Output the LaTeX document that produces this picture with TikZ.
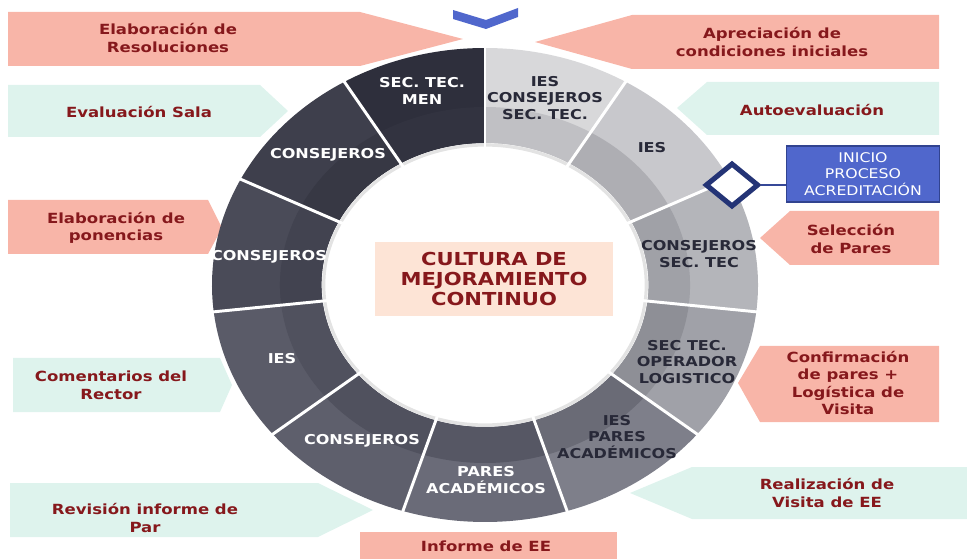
\documentclass[tikz,border=0pt]{standalone}
\usepackage{fontspec}
\newfontfamily\lblfont{DejaVu Sans}[FakeStretch=1.18]
\usetikzlibrary{positioning,shapes.geometric}
\definecolor{tagred}{RGB}{248,181,168}
\definecolor{tagmint}{RGB}{222,243,237}
\definecolor{txtred}{RGB}{134,24,28}
\definecolor{peach}{RGB}{253,228,214}
\definecolor{navy}{RGB}{36,52,118}
\definecolor{inicioblue}{RGB}{80,103,204}
\definecolor{ringink}{RGB}{40,41,56}
% ring segments: outer part / inner band
\definecolor{sA}{RGB}{46,47,60}   \definecolor{sAi}{RGB}{50,51,64}
\definecolor{sB}{RGB}{62,63,76}   \definecolor{sBi}{RGB}{55,56,68}
\definecolor{sC}{RGB}{74,75,88}   \definecolor{sCi}{RGB}{66,67,80}
\definecolor{sD}{RGB}{90,91,104}  \definecolor{sDi}{RGB}{80,81,94}
\definecolor{sE}{RGB}{94,95,108}  \definecolor{sEi}{RGB}{80,81,94}
\definecolor{sF}{RGB}{106,107,120}\definecolor{sFi}{RGB}{86,87,100}
\definecolor{sG}{RGB}{126,127,138}\definecolor{sGi}{RGB}{106,107,118}
\definecolor{sH}{RGB}{160,161,168}\definecolor{sHi}{RGB}{142,143,150}
\definecolor{sI}{RGB}{180,181,186}\definecolor{sIi}{RGB}{160,161,167}
\definecolor{sJ}{RGB}{200,200,204}\definecolor{sJi}{RGB}{174,174,179}
\definecolor{sK}{RGB}{216,216,218}\definecolor{sKi}{RGB}{192,192,196}
\tikzset{
    tagsalmon/.style={fill=tagred},
    tagmintbox/.style={fill=tagmint},
    tagtext/.style={font=\lblfont\bfseries\fontsize{10.5}{13.2}\selectfont, text=txtred, align=center, inner sep=0pt},
    ringtext/.style={font=\lblfont\bfseries\fontsize{10.2}{12.4}\selectfont, text=white, align=center, inner sep=0pt},
    ringdark/.style={ringtext, text=ringink},
    segline/.style={draw=white, line width=2.2pt},
    centerbox/.style={fill=peach, align=center, minimum width=178pt, minimum height=55pt, text=txtred,
        font=\lblfont\bfseries\fontsize{13.4}{15}\selectfont},
    startmark/.style={draw=navy, line width=3.8pt, fill=white, diamond, inner sep=0pt, minimum width=40pt, minimum height=33pt},
    inicioblock/.style={fill=inicioblue, draw=navy!70!inicioblue, line width=0.8pt, align=center, text=white,
        minimum width=115pt, minimum height=42pt, inner sep=1pt, font=\lblfont\fontsize{10}{12.4}\selectfont},
    linkline/.style={draw=navy!60!inicioblue, line width=1.6pt}
}

\begin{document}
\begin{tikzpicture}[x=0.75pt, y=-0.75pt]
    \useasboundingbox (0,0) rectangle (967,559);

    % left tags
    \fill[tagsalmon] (8,12) -- (360,12) -- (463,39) -- (360,66) -- (8,66) -- cycle;
    \node[tagtext] (resol) at (168,38) {Elaboración de\\Resoluciones};
    \fill[tagmintbox] (8,85) -- (260,85) -- (288,111) -- (260,137) -- (8,137) -- cycle;
    \node[tagtext] (evsala) at (139,112) {Evaluación Sala};
    \fill[tagsalmon] (8,200) -- (208,200) -- (222,228) -- (208,254) -- (8,254) -- cycle;
    \node[tagtext] (ponenc) at (116,228) {Elaboración de\\ponencias};
    \fill[tagmintbox] (13,358) -- (220,358) -- (232,385) -- (220,412) -- (13,412) -- cycle;
    \node[tagtext] (rector) at (111,385) {Comentarios del\\Rector};
    \fill[tagmintbox] (10,483) -- (318,483) -- (373,510) -- (318,537) -- (10,537) -- cycle;
    \node[tagtext] (revpar) at (145,518) {Revisión informe de\\Par};
    \fill[tagsalmon] (360,532) rectangle (617,559);
    \node[tagtext] (informe) at (486,546) {Informe de EE};

    % right tags
    \fill[tagsalmon] (939,15) -- (632,15) -- (535,42) -- (632,69) -- (939,69) -- cycle;
    \node[tagtext] (aprec) at (772,42) {Apreciación de\\condiciones iniciales};
    \fill[tagmintbox] (939,82) -- (707,82) -- (677,108) -- (707,135) -- (939,135) -- cycle;
    \node[tagtext] (autoev) at (812,110) {Autoevaluación};
    \fill[tagsalmon] (939,211) -- (790,211) -- (760,238) -- (790,265) -- (939,265) -- cycle;
    \node[tagtext] (selec) at (851,239) {Selección\\de Pares};
    \fill[tagsalmon] (939,346) -- (760,346) -- (738,383) -- (760,422) -- (939,422) -- cycle;
    \node[tagtext] (confirm) at (848,383) {Confirmación\\de pares +\\Logística de\\Visita};
    \fill[tagmintbox] (967,467) -- (692,467) -- (630,493) -- (692,519) -- (967,519) -- cycle;
    \node[tagtext] (realiz) at (827,493) {Realización de\\Visita de EE};

    % top chevron
    \fill[inicioblue] (453,10) -- (486,20) -- (518,8) -- (518,17) -- (486,29) -- (453,19) -- cycle;

    % ring
    \begin{scope}[shift={(485,285)}, xscale=1.152, yscale=-1]
        \foreach \a/\b/\co/\ci in {90/121/sA/sAi, 121/153.5/sB/sBi, 153.5/186.5/sC/sCi, 186.5/219/sD/sDi,
            219/252.5/sE/sEi, 252.5/287.5/sF/sFi, 287.5/321/sG/sGi, 321/353.5/sH/sHi,
            353.5/386.5/sI/sIi, 386.5/419/sJ/sJi, 419/450/sK/sKi} {
            \fill[\co] (\a:237) arc[start angle=\a, end angle=\b, radius=237] -- (\b:142)
                arc[start angle=\b, end angle=\a, radius=142] -- cycle;
            \fill[\ci] (\a:178) arc[start angle=\a, end angle=\b, radius=178] -- (\b:142)
                arc[start angle=\b, end angle=\a, radius=142] -- cycle;
        }
        \draw[gray!22, line width=2.4pt] (0,0) circle[radius=140];
        \foreach \a in {90,121,153.5,186.5,219,252.5,287.5,321,353.5,386.5,419}
            \draw[segline] (\a:138) -- (\a:240);
    \end{scope}

    % ring texts
    \node[ringtext] (secmen) at (422,91) {SEC. TEC.\\MEN};
    \node[ringdark] (iescons) at (545,98) {IES\\CONSEJEROS\\SEC. TEC.};
    \node[ringdark] (iesa) at (652,148) {IES};
    \node[ringdark] (conssec) at (699,254) {CONSEJEROS\\SEC. TEC};
    \node[ringdark] (operador) at (687,362) {SEC TEC.\\OPERADOR\\LOGISTICO};
    \node[ringdark] (iespares) at (617,437) {IES\\PARES\\ACADÉMICOS};
    \node[ringtext] (pares) at (486,480) {PARES\\ACADÉMICOS};
    \node[ringtext] (consa) at (362,441) {CONSEJEROS};
    \node[ringtext] (iesb) at (282,359) {IES};
    \node[ringtext] (consb) at (269,257) {CONSEJEROS};
    \node[ringtext] (consc) at (328,155) {CONSEJEROS};

    % centre
    \node[centerbox] (cultura) at (494,279) {CULTURA DE\\MEJORAMIENTO\\CONTINUO};

    % start of the process
    \node[startmark] (inicioMark) at (732,185) {};
    \node[inicioblock] (inicio) at (863,174) {INICIO\\PROCESO\\ACREDITACIÓN};
    \draw[linkline] (inicioMark.east) -- (inicioMark.east -| inicio.west);
\end{tikzpicture}
\end{document}
